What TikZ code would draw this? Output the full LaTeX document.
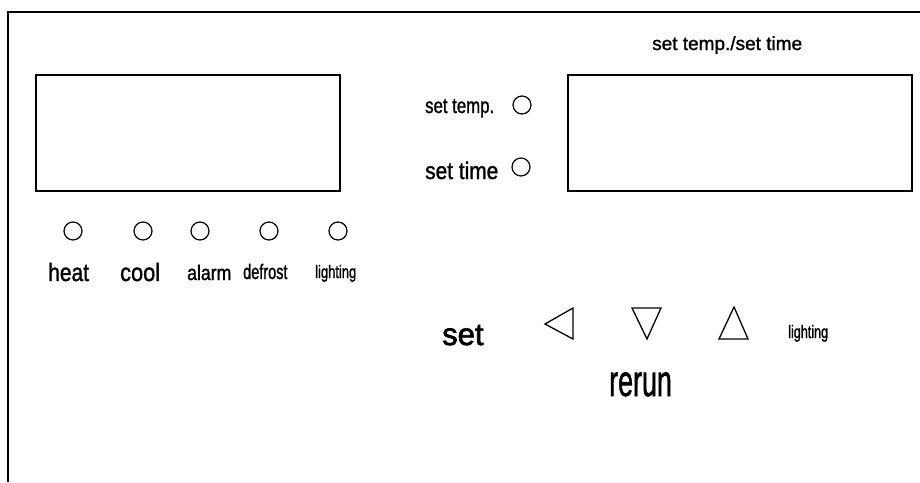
\documentclass[tikz,border=0pt]{standalone}
\usepackage{fontspec}
\setmainfont[FakeBold=1.4]{Liberation Sans}
\newfontfamily\heavyfont[FakeBold=2.2]{Liberation Sans}
\newcommand\mytxt[3]{\scalebox{#2}[1]{\fontsize{#1}{#1}\selectfont #3}}
\begin{document}
\begin{tikzpicture}[x=1pt,y=-1pt,
  lamp/.style={draw,circle,line width=1.2pt,minimum size=18pt,inner sep=0pt},
  panel/.style={draw,line width=1.5pt},
  lbl/.style={anchor=base west,inner sep=0pt},
  tri/.style={draw,line width=1.3pt,line join=miter}]
\useasboundingbox (0,0) rectangle (920,482);
% frame
\coordinate (ftl) at (8,12);
\coordinate (fbl) at (8,482);
\coordinate (ftr) at (920,12);
\draw[line width=1.6pt] (fbl) -- (ftl) -- (ftr);
% displays
\node[panel,minimum width=304pt,minimum height=116pt,inner sep=0pt] (d1) at (188,133) {};
\node[panel,minimum width=344pt,minimum height=116pt,inner sep=0pt] (d2) at (740,133) {};
% lamps left row
\node[lamp] (l1) at (73,231) {};
\node[lamp] (l2) at (143,231) {};
\node[lamp] (l3) at (200,231) {};
\node[lamp] (l4) at (269,231) {};
\node[lamp] (l5) at (338,231) {};
\node[lbl] (t1) at (48,281) {\mytxt{25}{0.84}{heat}};
\node[lbl] (t2) at (120,281) {\mytxt{25}{0.87}{cool}};
\node[lbl] (t3) at (187,280) {\mytxt{21}{0.84}{alarm}};
\node[lbl] (t4) at (243,279) {\mytxt{21}{0.69}{defrost}};
\node[lbl] (t5) at (315,278) {\mytxt{18}{0.72}{lighting}};
% set temp / set time lamps
\node[lbl] (st1) at (425,113) {\mytxt{21.5}{0.78}{set temp.}};
\node[lamp] (sl1) at (522,105) {};
\node[lbl] (st2) at (425,179) {\mytxt{24}{0.87}{set time}};
\node[lamp] (sl2) at (521,167) {};
\node[lbl] (hdr) at (652,50) {\mytxt{19}{1.0}{set temp./set time}};
% buttons
\node[lbl] (bset) at (442,345) {\heavyfont\mytxt{31}{1.0}{set}};
\draw[tri] (573,308) -- (573,339) -- (545,324) -- cycle;
\draw[tri] (632,308) -- (661,308) -- (647,339) -- cycle;
\draw[tri] (734,307) -- (748,339) -- (719,339) -- cycle;
\node[lbl] (blt) at (788,338) {\mytxt{18}{0.7}{lighting}};
\node[lbl] (brr) at (609,396) {\mytxt{44}{0.61}{rerun}};
\end{tikzpicture}
\end{document}
